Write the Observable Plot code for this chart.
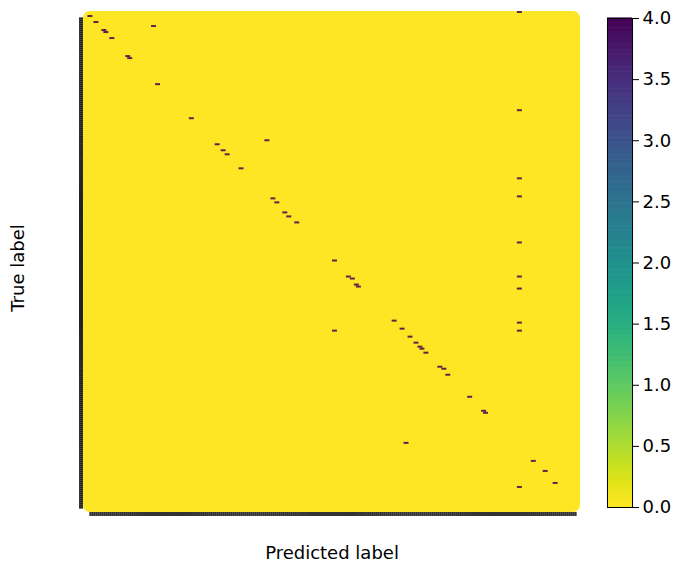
<!DOCTYPE html>
<html><head><meta charset="utf-8">
<script src="https://cdn.jsdelivr.net/npm/d3@7"></script>
<script src="https://cdn.jsdelivr.net/npm/@observablehq/plot@0.6"></script>
<style>
body{margin:0;background:#fff;}
#wrap{position:relative;width:674px;height:561px;font-family:"DejaVu Sans",sans-serif;}
#main,#cbar{position:absolute;top:0;}
#main{left:0;}
#cbar{left:590px;}
</style></head><body>
<div id="wrap"><div id="main"></div><div id="cbar"></div></div>
<script>
// number of classes (rows = true label, columns = predicted label)
const nClasses = 250;
// non-zero cells of the confusion matrix
const trueLabel = [0,2,5,7,9,10,13,22,23,36,49,53,64,66,69,71,78,83,92,93,95,100,102,105,115,124,132,132,133,136,137,138,154,155,158,159,159,162,165,167,168,170,177,178,181,192,199,200,215,224,229,235,237];
const predLabel = [219,3,6,35,10,11,14,22,23,37,219,54,92,67,70,72,79,219,219,95,97,101,103,107,219,126,133,219,135,137,138,219,156,219,160,126,219,164,167,169,170,172,179,181,183,194,201,202,162,226,232,237,219];
const count     = [4,4,4,4,4,4,4,4,4,4,4,4,4,4,4,4,4,4,4,4,4,4,4,4,4,4,4,4,4,4,4,4,4,4,4,4,4,4,4,4,4,4,4,4,4,4,4,4,4,4,4,4,4];
const colorDomain = [0, 4];
const colorTicks = [0, 0.5, 1, 1.5, 2, 2.5, 3, 3.5, 4];
const tickFirst = 3, tickLast = 247;
const xLabel = "Predicted label", yLabel = "True label";

const cells = trueLabel.map((t, i) => ({t, p: predLabel[i], v: count[i]}));
const classTicks = d3.range(tickFirst, tickLast + 1).map(i => i + 0.5);
const color = {type: "linear", scheme: "viridis", reverse: true, domain: colorDomain};

const main = Plot.plot({
  width: 674, height: 561,
  marginLeft: 83, marginRight: 94, marginTop: 11, marginBottom: 49,
  style: {fontFamily: "DejaVu Sans, sans-serif", fontSize: "18px", color: "#000", background: "transparent"},
  x: {domain: [0, nClasses]},
  y: {domain: [0, nClasses], reverse: true},
  color,
  marks: [
    Plot.rect([0], {x1: 0, x2: nClasses, y1: 0, y2: nClasses, fill: d => d, rx: 7}),
    Plot.rect(cells, {x1: d => d.p, x2: d => d.p + 1, y1: d => d.t, y2: d => d.t + 1, fill: "v", fillOpacity: 0.85, insetLeft: -1.5, insetRight: -1.5}),
    Plot.axisY(classTicks, {anchor: "left", tickSize: 4, strokeWidth: 2.2, tickFormat: () => "", stroke: "#222", label: null}),
    Plot.axisX(classTicks, {anchor: "bottom", tickSize: 4, strokeWidth: 2.2, tickFormat: () => "", stroke: "#333", label: null}),
    Plot.text([yLabel], {frameAnchor: "left", textAnchor: "middle", dx: -65, dy: 6, rotate: -90, fontSize: 18, fill: "#000"}),
    Plot.text([xLabel], {frameAnchor: "bottom", dy: 46, fontSize: 18, fill: "#000"})
  ]
});
document.getElementById("main").appendChild(main);

const gradStep = 0.02;
const grad = d3.range(colorDomain[0], colorDomain[1], gradStep);
const cbar = Plot.plot({
  width: 84, height: 561,
  marginLeft: 17, marginRight: 42, marginTop: 18, marginBottom: 54,
  style: {fontFamily: "DejaVu Sans, sans-serif", fontSize: "18px", color: "#000", background: "transparent"},
  x: {domain: [0, 1], axis: null},
  y: {domain: colorDomain},
  color,
  marks: [
    Plot.rect(grad, {x1: 0, x2: 1, y1: d => d, y2: d => d + gradStep + 0.005, fill: d => d}),
    Plot.frame({stroke: "#000", strokeWidth: 1}),
    Plot.axisY(colorTicks, {anchor: "right", tickSize: 6, tickPadding: 4, tickFormat: d3.format(".1f"), label: null, fontSize: 18})
  ]
});
document.getElementById("cbar").appendChild(cbar);
</script>
</body></html>
